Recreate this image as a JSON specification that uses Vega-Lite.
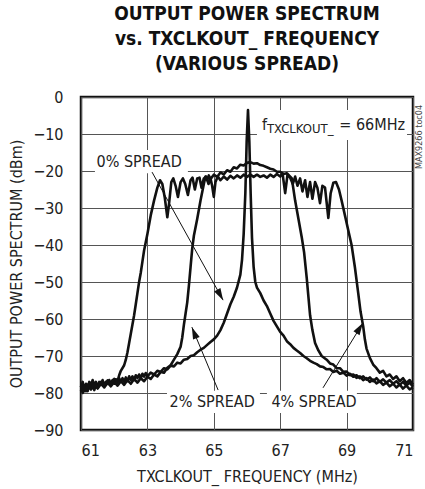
{
  "$schema": "https://vega.github.io/schema/vega-lite/v6.json",
  "width": 332,
  "height": 333,
  "autosize": {"type": "none"},
  "padding": {"left": 81, "top": 97, "right": 12, "bottom": 59},
  "background": "white",
  "config": {
    "view": {"stroke": "#111", "strokeWidth": 2.5},
    "font": "DejaVu Sans Condensed, sans-serif",
    "axis": {
      "domain": false,
      "ticks": false,
      "grid": true,
      "gridColor": "#555",
      "gridWidth": 1,
      "labelFont": "DejaVu Sans Condensed, sans-serif",
      "labelFontSize": 16,
      "labelColor": "#222",
      "titleFont": "DejaVu Sans Condensed, sans-serif",
      "titleFontSize": 16,
      "titleFontWeight": "normal",
      "titleColor": "#222"
    }
  },
  "title": {
    "text": ["OUTPUT POWER SPECTRUM", "vs. TXCLKOUT_ FREQUENCY", "(VARIOUS SPREAD)"],
    "font": "DejaVu Sans Condensed, sans-serif",
    "fontSize": 19,
    "fontWeight": "bold",
    "lineHeight": 25,
    "anchor": "middle",
    "offset": 15,
    "color": "#111"
  },
  "datasets": {
    "curves": [
      {"series": "0%", "f": 61.0, "p": -78.5}, {"series": "0%", "f": 61.05, "p": -77}, {"series": "0%", "f": 61.1, "p": -79}, {"series": "0%", "f": 61.15, "p": -77.5}, {"series": "0%", "f": 61.2, "p": -78.5}, {"series": "0%", "f": 61.25, "p": -77}, {"series": "0%", "f": 61.3, "p": -78}, {"series": "0%", "f": 61.35, "p": -76.5}, {"series": "0%", "f": 61.4, "p": -78}, {"series": "0%", "f": 61.45, "p": -77}, {"series": "0%", "f": 61.5, "p": -78.5}, {"series": "0%", "f": 61.55, "p": -77}, {"series": "0%", "f": 61.6, "p": -77.8}, {"series": "0%", "f": 61.65, "p": -76.5}, {"series": "0%", "f": 61.7, "p": -78}, {"series": "0%", "f": 61.75, "p": -77}, {"series": "0%", "f": 61.8, "p": -77.5}, {"series": "0%", "f": 61.85, "p": -76.5}, {"series": "0%", "f": 61.9, "p": -77.5}, {"series": "0%", "f": 61.95, "p": -76.5}, {"series": "0%", "f": 62.0, "p": -77.5}, {"series": "0%", "f": 62.05, "p": -76.3}, {"series": "0%", "f": 62.1, "p": -77.2}, {"series": "0%", "f": 62.15, "p": -76}, {"series": "0%", "f": 62.2, "p": -77}, {"series": "0%", "f": 62.25, "p": -76}, {"series": "0%", "f": 62.3, "p": -77}, {"series": "0%", "f": 62.35, "p": -75.8}, {"series": "0%", "f": 62.4, "p": -76.8}, {"series": "0%", "f": 62.45, "p": -75.5}, {"series": "0%", "f": 62.5, "p": -76.5}, {"series": "0%", "f": 62.55, "p": -75.5}, {"series": "0%", "f": 62.6, "p": -76.5}, {"series": "0%", "f": 62.65, "p": -75.2}, {"series": "0%", "f": 62.7, "p": -76}, {"series": "0%", "f": 62.75, "p": -75}, {"series": "0%", "f": 62.8, "p": -76}, {"series": "0%", "f": 62.85, "p": -74.8}, {"series": "0%", "f": 62.9, "p": -75.6}, {"series": "0%", "f": 62.95, "p": -74.6}, {"series": "0%", "f": 63.0, "p": -75.5}, {"series": "0%", "f": 63.1, "p": -74.5}, {"series": "0%", "f": 63.2, "p": -75}, {"series": "0%", "f": 63.3, "p": -74}, {"series": "0%", "f": 63.4, "p": -74.3}, {"series": "0%", "f": 63.5, "p": -73.3}, {"series": "0%", "f": 63.6, "p": -73.6}, {"series": "0%", "f": 63.7, "p": -72.6}, {"series": "0%", "f": 63.8, "p": -72.8}, {"series": "0%", "f": 63.9, "p": -71.8}, {"series": "0%", "f": 64.0, "p": -72}, {"series": "0%", "f": 64.1, "p": -71}, {"series": "0%", "f": 64.2, "p": -70.8}, {"series": "0%", "f": 64.3, "p": -70}, {"series": "0%", "f": 64.4, "p": -69.8}, {"series": "0%", "f": 64.5, "p": -69}, {"series": "0%", "f": 64.6, "p": -68.3}, {"series": "0%", "f": 64.7, "p": -67.8}, {"series": "0%", "f": 64.8, "p": -67}, {"series": "0%", "f": 64.9, "p": -66.2}, {"series": "0%", "f": 65.0, "p": -65.5}, {"series": "0%", "f": 65.1, "p": -64.5}, {"series": "0%", "f": 65.2, "p": -63}, {"series": "0%", "f": 65.3, "p": -61}, {"series": "0%", "f": 65.4, "p": -58.5}, {"series": "0%", "f": 65.5, "p": -56}, {"series": "0%", "f": 65.6, "p": -54}, {"series": "0%", "f": 65.7, "p": -51.5}, {"series": "0%", "f": 65.8, "p": -48}, {"series": "0%", "f": 65.85, "p": -44}, {"series": "0%", "f": 65.9, "p": -37}, {"series": "0%", "f": 65.95, "p": -26}, {"series": "0%", "f": 65.99, "p": -12}, {"series": "0%", "f": 66.03, "p": -3.5}, {"series": "0%", "f": 66.07, "p": -12}, {"series": "0%", "f": 66.11, "p": -26}, {"series": "0%", "f": 66.15, "p": -38}, {"series": "0%", "f": 66.2, "p": -46}, {"series": "0%", "f": 66.25, "p": -50}, {"series": "0%", "f": 66.3, "p": -51.5}, {"series": "0%", "f": 66.4, "p": -53}, {"series": "0%", "f": 66.5, "p": -55}, {"series": "0%", "f": 66.6, "p": -56.5}, {"series": "0%", "f": 66.7, "p": -58.5}, {"series": "0%", "f": 66.8, "p": -60.5}, {"series": "0%", "f": 66.9, "p": -62}, {"series": "0%", "f": 67.0, "p": -63.5}, {"series": "0%", "f": 67.1, "p": -64.5}, {"series": "0%", "f": 67.2, "p": -66}, {"series": "0%", "f": 67.3, "p": -66.8}, {"series": "0%", "f": 67.4, "p": -67.8}, {"series": "0%", "f": 67.5, "p": -68.5}, {"series": "0%", "f": 67.6, "p": -69.2}, {"series": "0%", "f": 67.7, "p": -70}, {"series": "0%", "f": 67.8, "p": -70.6}, {"series": "0%", "f": 67.9, "p": -71.3}, {"series": "0%", "f": 68.0, "p": -71.8}, {"series": "0%", "f": 68.1, "p": -72.2}, {"series": "0%", "f": 68.2, "p": -72.8}, {"series": "0%", "f": 68.3, "p": -73}, {"series": "0%", "f": 68.4, "p": -73.6}, {"series": "0%", "f": 68.5, "p": -73.5}, {"series": "0%", "f": 68.6, "p": -74.3}, {"series": "0%", "f": 68.7, "p": -74}, {"series": "0%", "f": 68.8, "p": -74.8}, {"series": "0%", "f": 68.9, "p": -74.5}, {"series": "0%", "f": 69.0, "p": -75.3}, {"series": "0%", "f": 69.1, "p": -74.8}, {"series": "0%", "f": 69.2, "p": -75.6}, {"series": "0%", "f": 69.3, "p": -75.2}, {"series": "0%", "f": 69.4, "p": -76}, {"series": "0%", "f": 69.5, "p": -75.5}, {"series": "0%", "f": 69.6, "p": -76.4}, {"series": "0%", "f": 69.7, "p": -75.8}, {"series": "0%", "f": 69.8, "p": -76.8}, {"series": "0%", "f": 69.9, "p": -76}, {"series": "0%", "f": 70.0, "p": -77}, {"series": "0%", "f": 70.1, "p": -76.3}, {"series": "0%", "f": 70.2, "p": -77.2}, {"series": "0%", "f": 70.3, "p": -76.5}, {"series": "0%", "f": 70.4, "p": -77.5}, {"series": "0%", "f": 70.5, "p": -76.8}, {"series": "0%", "f": 70.6, "p": -77.8}, {"series": "0%", "f": 70.7, "p": -77}, {"series": "0%", "f": 70.8, "p": -78}, {"series": "0%", "f": 70.9, "p": -77.2}, {"series": "0%", "f": 71.0, "p": -78.3},

      {"series": "2%", "f": 61.0, "p": -79.5}, {"series": "2%", "f": 61.05, "p": -78}, {"series": "2%", "f": 61.1, "p": -79.5}, {"series": "2%", "f": 61.15, "p": -78.5}, {"series": "2%", "f": 61.2, "p": -79.5}, {"series": "2%", "f": 61.25, "p": -78}, {"series": "2%", "f": 61.3, "p": -79}, {"series": "2%", "f": 61.35, "p": -78}, {"series": "2%", "f": 61.4, "p": -79.2}, {"series": "2%", "f": 61.45, "p": -77.8}, {"series": "2%", "f": 61.5, "p": -78.8}, {"series": "2%", "f": 61.6, "p": -77.5}, {"series": "2%", "f": 61.7, "p": -78.5}, {"series": "2%", "f": 61.8, "p": -77.2}, {"series": "2%", "f": 61.9, "p": -78.2}, {"series": "2%", "f": 62.0, "p": -77}, {"series": "2%", "f": 62.1, "p": -78}, {"series": "2%", "f": 62.2, "p": -76.8}, {"series": "2%", "f": 62.3, "p": -77.8}, {"series": "2%", "f": 62.4, "p": -76.5}, {"series": "2%", "f": 62.5, "p": -77.5}, {"series": "2%", "f": 62.6, "p": -76.2}, {"series": "2%", "f": 62.7, "p": -77.2}, {"series": "2%", "f": 62.8, "p": -76}, {"series": "2%", "f": 62.9, "p": -76.8}, {"series": "2%", "f": 63.0, "p": -75.6}, {"series": "2%", "f": 63.1, "p": -76.2}, {"series": "2%", "f": 63.2, "p": -75}, {"series": "2%", "f": 63.3, "p": -75.5}, {"series": "2%", "f": 63.4, "p": -74.3}, {"series": "2%", "f": 63.5, "p": -74.5}, {"series": "2%", "f": 63.6, "p": -73.2}, {"series": "2%", "f": 63.7, "p": -72.5}, {"series": "2%", "f": 63.8, "p": -71}, {"series": "2%", "f": 63.9, "p": -69.5}, {"series": "2%", "f": 64.0, "p": -67.5}, {"series": "2%", "f": 64.05, "p": -65}, {"series": "2%", "f": 64.1, "p": -61.5}, {"series": "2%", "f": 64.15, "p": -58.5}, {"series": "2%", "f": 64.2, "p": -55.5}, {"series": "2%", "f": 64.25, "p": -51}, {"series": "2%", "f": 64.3, "p": -46}, {"series": "2%", "f": 64.35, "p": -41}, {"series": "2%", "f": 64.4, "p": -37.5}, {"series": "2%", "f": 64.5, "p": -33}, {"series": "2%", "f": 64.6, "p": -28}, {"series": "2%", "f": 64.7, "p": -23.5}, {"series": "2%", "f": 64.75, "p": -21.5}, {"series": "2%", "f": 64.8, "p": -22.5}, {"series": "2%", "f": 64.85, "p": -21.2}, {"series": "2%", "f": 64.9, "p": -22.2}, {"series": "2%", "f": 65.0, "p": -21}, {"series": "2%", "f": 65.1, "p": -21.6}, {"series": "2%", "f": 65.2, "p": -20.4}, {"series": "2%", "f": 65.3, "p": -20.9}, {"series": "2%", "f": 65.4, "p": -19.8}, {"series": "2%", "f": 65.5, "p": -20.2}, {"series": "2%", "f": 65.6, "p": -19}, {"series": "2%", "f": 65.7, "p": -19.3}, {"series": "2%", "f": 65.8, "p": -18.3}, {"series": "2%", "f": 65.9, "p": -18.5}, {"series": "2%", "f": 66.0, "p": -17.8}, {"series": "2%", "f": 66.1, "p": -17.6}, {"series": "2%", "f": 66.2, "p": -18}, {"series": "2%", "f": 66.3, "p": -17.9}, {"series": "2%", "f": 66.4, "p": -18.4}, {"series": "2%", "f": 66.5, "p": -18.6}, {"series": "2%", "f": 66.6, "p": -19}, {"series": "2%", "f": 66.7, "p": -19.4}, {"series": "2%", "f": 66.8, "p": -19.6}, {"series": "2%", "f": 66.9, "p": -20.2}, {"series": "2%", "f": 67.0, "p": -20.2}, {"series": "2%", "f": 67.1, "p": -20.8}, {"series": "2%", "f": 67.2, "p": -20.6}, {"series": "2%", "f": 67.3, "p": -21.5}, {"series": "2%", "f": 67.35, "p": -22}, {"series": "2%", "f": 67.45, "p": -28}, {"series": "2%", "f": 67.55, "p": -33}, {"series": "2%", "f": 67.65, "p": -38}, {"series": "2%", "f": 67.72, "p": -42}, {"series": "2%", "f": 67.8, "p": -49}, {"series": "2%", "f": 67.85, "p": -54}, {"series": "2%", "f": 67.9, "p": -59}, {"series": "2%", "f": 67.97, "p": -63}, {"series": "2%", "f": 68.05, "p": -66.5}, {"series": "2%", "f": 68.15, "p": -68.5}, {"series": "2%", "f": 68.25, "p": -70}, {"series": "2%", "f": 68.4, "p": -71}, {"series": "2%", "f": 68.5, "p": -72}, {"series": "2%", "f": 68.6, "p": -72.3}, {"series": "2%", "f": 68.7, "p": -73.3}, {"series": "2%", "f": 68.8, "p": -73.3}, {"series": "2%", "f": 68.9, "p": -74.3}, {"series": "2%", "f": 69.0, "p": -74.2}, {"series": "2%", "f": 69.1, "p": -75.2}, {"series": "2%", "f": 69.2, "p": -75}, {"series": "2%", "f": 69.3, "p": -75.9}, {"series": "2%", "f": 69.4, "p": -75.5}, {"series": "2%", "f": 69.5, "p": -76.5}, {"series": "2%", "f": 69.6, "p": -76}, {"series": "2%", "f": 69.7, "p": -77}, {"series": "2%", "f": 69.8, "p": -76.4}, {"series": "2%", "f": 69.9, "p": -77.4}, {"series": "2%", "f": 70.0, "p": -76.8}, {"series": "2%", "f": 70.1, "p": -77.8}, {"series": "2%", "f": 70.2, "p": -77.2}, {"series": "2%", "f": 70.3, "p": -78.2}, {"series": "2%", "f": 70.4, "p": -77.5}, {"series": "2%", "f": 70.5, "p": -78.5}, {"series": "2%", "f": 70.6, "p": -77.7}, {"series": "2%", "f": 70.7, "p": -78.8}, {"series": "2%", "f": 70.8, "p": -78}, {"series": "2%", "f": 70.9, "p": -79}, {"series": "2%", "f": 71.0, "p": -78.5},

      {"series": "4%", "f": 61.0, "p": -78}, {"series": "4%", "f": 61.05, "p": -80}, {"series": "4%", "f": 61.1, "p": -78.2}, {"series": "4%", "f": 61.15, "p": -79.5}, {"series": "4%", "f": 61.2, "p": -77.8}, {"series": "4%", "f": 61.3, "p": -79}, {"series": "4%", "f": 61.4, "p": -77.5}, {"series": "4%", "f": 61.5, "p": -78.6}, {"series": "4%", "f": 61.6, "p": -77}, {"series": "4%", "f": 61.7, "p": -78}, {"series": "4%", "f": 61.8, "p": -76.6}, {"series": "4%", "f": 61.9, "p": -77.5}, {"series": "4%", "f": 62.0, "p": -76.2}, {"series": "4%", "f": 62.1, "p": -76.8}, {"series": "4%", "f": 62.15, "p": -75.2}, {"series": "4%", "f": 62.2, "p": -74}, {"series": "4%", "f": 62.3, "p": -72.5}, {"series": "4%", "f": 62.35, "p": -71}, {"series": "4%", "f": 62.4, "p": -69}, {"series": "4%", "f": 62.45, "p": -66.5}, {"series": "4%", "f": 62.5, "p": -64}, {"series": "4%", "f": 62.55, "p": -61.5}, {"series": "4%", "f": 62.6, "p": -59}, {"series": "4%", "f": 62.65, "p": -56}, {"series": "4%", "f": 62.7, "p": -53}, {"series": "4%", "f": 62.75, "p": -50}, {"series": "4%", "f": 62.8, "p": -47.5}, {"series": "4%", "f": 62.85, "p": -44.5}, {"series": "4%", "f": 62.9, "p": -41.5}, {"series": "4%", "f": 63.0, "p": -37}, {"series": "4%", "f": 63.1, "p": -32}, {"series": "4%", "f": 63.2, "p": -28}, {"series": "4%", "f": 63.3, "p": -24.5}, {"series": "4%", "f": 63.38, "p": -22.5}, {"series": "4%", "f": 63.45, "p": -23.5}, {"series": "4%", "f": 63.52, "p": -27}, {"series": "4%", "f": 63.6, "p": -32.5}, {"series": "4%", "f": 63.65, "p": -29}, {"series": "4%", "f": 63.72, "p": -23}, {"series": "4%", "f": 63.78, "p": -22}, {"series": "4%", "f": 63.85, "p": -24}, {"series": "4%", "f": 63.92, "p": -27}, {"series": "4%", "f": 64.0, "p": -23}, {"series": "4%", "f": 64.07, "p": -22}, {"series": "4%", "f": 64.14, "p": -23.5}, {"series": "4%", "f": 64.22, "p": -26.5}, {"series": "4%", "f": 64.3, "p": -22.5}, {"series": "4%", "f": 64.36, "p": -21.8}, {"series": "4%", "f": 64.43, "p": -25}, {"series": "4%", "f": 64.5, "p": -22}, {"series": "4%", "f": 64.57, "p": -21.8}, {"series": "4%", "f": 64.63, "p": -24.5}, {"series": "4%", "f": 64.7, "p": -22}, {"series": "4%", "f": 64.77, "p": -21.5}, {"series": "4%", "f": 64.84, "p": -23.5}, {"series": "4%", "f": 64.9, "p": -22}, {"series": "4%", "f": 64.95, "p": -24}, {"series": "4%", "f": 65.0, "p": -27}, {"series": "4%", "f": 65.05, "p": -23}, {"series": "4%", "f": 65.12, "p": -21.5}, {"series": "4%", "f": 65.2, "p": -22.5}, {"series": "4%", "f": 65.3, "p": -21.5}, {"series": "4%", "f": 65.4, "p": -22.3}, {"series": "4%", "f": 65.5, "p": -21.3}, {"series": "4%", "f": 65.6, "p": -22}, {"series": "4%", "f": 65.7, "p": -21.2}, {"series": "4%", "f": 65.8, "p": -21.8}, {"series": "4%", "f": 65.9, "p": -21}, {"series": "4%", "f": 66.0, "p": -21.6}, {"series": "4%", "f": 66.1, "p": -21}, {"series": "4%", "f": 66.2, "p": -21.6}, {"series": "4%", "f": 66.3, "p": -21}, {"series": "4%", "f": 66.4, "p": -21.6}, {"series": "4%", "f": 66.5, "p": -21.2}, {"series": "4%", "f": 66.6, "p": -21.8}, {"series": "4%", "f": 66.7, "p": -21}, {"series": "4%", "f": 66.8, "p": -21.6}, {"series": "4%", "f": 66.9, "p": -20.8}, {"series": "4%", "f": 67.0, "p": -21.5}, {"series": "4%", "f": 67.07, "p": -20.6}, {"series": "4%", "f": 67.15, "p": -26}, {"series": "4%", "f": 67.22, "p": -21}, {"series": "4%", "f": 67.3, "p": -21.8}, {"series": "4%", "f": 67.38, "p": -23.5}, {"series": "4%", "f": 67.45, "p": -21.5}, {"series": "4%", "f": 67.52, "p": -24}, {"series": "4%", "f": 67.6, "p": -22}, {"series": "4%", "f": 67.67, "p": -25.5}, {"series": "4%", "f": 67.75, "p": -22.5}, {"series": "4%", "f": 67.82, "p": -27}, {"series": "4%", "f": 67.9, "p": -23}, {"series": "4%", "f": 67.97, "p": -27.5}, {"series": "4%", "f": 68.05, "p": -23}, {"series": "4%", "f": 68.12, "p": -24.5}, {"series": "4%", "f": 68.2, "p": -28.7}, {"series": "4%", "f": 68.27, "p": -24}, {"series": "4%", "f": 68.35, "p": -24.5}, {"series": "4%", "f": 68.45, "p": -32.7}, {"series": "4%", "f": 68.52, "p": -26}, {"series": "4%", "f": 68.6, "p": -23.2}, {"series": "4%", "f": 68.68, "p": -23}, {"series": "4%", "f": 68.77, "p": -25}, {"series": "4%", "f": 68.85, "p": -28}, {"series": "4%", "f": 68.95, "p": -32}, {"series": "4%", "f": 69.05, "p": -36}, {"series": "4%", "f": 69.15, "p": -40}, {"series": "4%", "f": 69.25, "p": -46}, {"series": "4%", "f": 69.35, "p": -53}, {"series": "4%", "f": 69.42, "p": -58}, {"series": "4%", "f": 69.5, "p": -62}, {"series": "4%", "f": 69.55, "p": -65.5}, {"series": "4%", "f": 69.6, "p": -68}, {"series": "4%", "f": 69.7, "p": -70.5}, {"series": "4%", "f": 69.8, "p": -72.3}, {"series": "4%", "f": 69.9, "p": -73.3}, {"series": "4%", "f": 70.0, "p": -74.5}, {"series": "4%", "f": 70.1, "p": -74}, {"series": "4%", "f": 70.2, "p": -75.5}, {"series": "4%", "f": 70.3, "p": -75}, {"series": "4%", "f": 70.4, "p": -76.2}, {"series": "4%", "f": 70.5, "p": -75.5}, {"series": "4%", "f": 70.6, "p": -76.8}, {"series": "4%", "f": 70.7, "p": -76}, {"series": "4%", "f": 70.8, "p": -77.3}, {"series": "4%", "f": 70.9, "p": -76.5}, {"series": "4%", "f": 71.0, "p": -77.8}
    ],
    "boxes": [
      {"f": 61.42, "f2": 64.22, "p": -14.3, "p2": -20.6},
      {"f": 63.59, "f2": 66.39, "p": -79.4, "p2": -85.4},
      {"f": 66.6, "f2": 69.31, "p": -79.4, "p2": -85.4},
      {"f": 66.3, "f2": 70.82, "p": -3.5, "p2": -11.6}
    ],
    "labels": [
      {"f": 62.75, "p": -17.6, "text": "0% SPREAD"},
      {"f": 64.95, "p": -82.4, "text": "2% SPREAD"},
      {"f": 68.02, "p": -82.4, "text": "4% SPREAD"}
    ],
    "arrows": [
      {"name": "0%", "f": 63.14, "p": -20.3, "f2": 65.28, "p2": -54.9},
      {"name": "2%", "f": 65.13, "p": -79.2, "f2": 64.34, "p2": -62.2},
      {"name": "4%", "f": 68.29, "p": -78.6, "f2": 69.49, "p2": -61.1}
    ],
    "note": [
      {"role": "main", "f": 66.45, "p": -8.9, "text": "f"},
      {"role": "sub", "f": 66.6, "p": -9.8, "text": "TXCLKOUT_"},
      {"role": "main", "f": 68.78, "p": -8.9, "text": "= 66MHz"}
    ],
    "tag": [
      {"f": 71.17, "p": -10.8, "text": "MAX9266 toc04"}
    ]
  },
  "data": {"name": "curves"},
  "layer": [
    {
      "data": {"name": "boxes"},
      "mark": {"type": "rect", "fill": "white", "stroke": null},
      "encoding": {
        "x": {"field": "f", "type": "quantitative", "scale": {"domain": [61, 71], "nice": false, "zero": false},
              "axis": {"values": [61, 63, 65, 67, 69, 71], "title": "TXCLKOUT_ FREQUENCY (MHz)", "labelPadding": 12, "titlePadding": 10, "labelOverlap": false}},
        "x2": {"field": "f2"},
        "y": {"field": "p", "type": "quantitative", "scale": {"domain": [-90, 0], "nice": false, "zero": false},
              "axis": {"tickCount": 9, "title": "OUTPUT POWER SPECTRUM (dBm)", "labelPadding": 18, "titlePadding": 8, "labelOverlap": false, "labelFlush": false}},
        "y2": {"field": "p2"}
      }
    },
    {
      "mark": {"type": "line", "color": "#111", "strokeWidth": 2.6, "strokeJoin": "round"},
      "encoding": {
        "x": {"field": "f", "type": "quantitative"},
        "y": {"field": "p", "type": "quantitative"},
        "detail": {"field": "series", "type": "nominal"}
      }
    },
    {
      "data": {"name": "arrows"},
      "mark": {"type": "rule", "color": "#111", "strokeWidth": 1},
      "encoding": {
        "x": {"field": "f", "type": "quantitative"},
        "y": {"field": "p", "type": "quantitative"},
        "x2": {"field": "f2"},
        "y2": {"field": "p2"}
      }
    },
    {
      "data": {"name": "arrows"},
      "transform": [{"filter": "datum.name === '0%'"}],
      "mark": {"type": "point", "shape": "M0,0L-0.6,2L0.6,2Z", "filled": true, "color": "#111", "size": 144, "angle": 151, "opacity": 1},
      "encoding": {"x": {"field": "f2", "type": "quantitative"}, "y": {"field": "p2", "type": "quantitative"}}
    },
    {
      "data": {"name": "arrows"},
      "transform": [{"filter": "datum.name === '2%'"}],
      "mark": {"type": "point", "shape": "M0,0L-0.6,2L0.6,2Z", "filled": true, "color": "#111", "size": 144, "angle": 338, "opacity": 1},
      "encoding": {"x": {"field": "f2", "type": "quantitative"}, "y": {"field": "p2", "type": "quantitative"}}
    },
    {
      "data": {"name": "arrows"},
      "transform": [{"filter": "datum.name === '4%'"}],
      "mark": {"type": "point", "shape": "M0,0L-0.6,2L0.6,2Z", "filled": true, "color": "#111", "size": 144, "angle": 32, "opacity": 1},
      "encoding": {"x": {"field": "f2", "type": "quantitative"}, "y": {"field": "p2", "type": "quantitative"}}
    },
    {
      "data": {"name": "labels"},
      "mark": {"type": "text", "fontSize": 16, "color": "#222", "align": "center", "baseline": "middle"},
      "encoding": {
        "x": {"field": "f", "type": "quantitative"},
        "y": {"field": "p", "type": "quantitative"},
        "text": {"field": "text"}
      }
    },
    {
      "data": {"name": "note"},
      "transform": [{"filter": "datum.role === 'main'"}],
      "mark": {"type": "text", "fontSize": 16, "color": "#222", "align": "left", "baseline": "alphabetic"},
      "encoding": {
        "x": {"field": "f", "type": "quantitative"},
        "y": {"field": "p", "type": "quantitative"},
        "text": {"field": "text"}
      }
    },
    {
      "data": {"name": "note"},
      "transform": [{"filter": "datum.role === 'sub'"}],
      "mark": {"type": "text", "fontSize": 13, "color": "#222", "align": "left", "baseline": "alphabetic"},
      "encoding": {
        "x": {"field": "f", "type": "quantitative"},
        "y": {"field": "p", "type": "quantitative"},
        "text": {"field": "text"}
      }
    },
    {
      "data": {"name": "tag"},
      "mark": {"type": "text", "fontSize": 9, "color": "#444", "angle": 270, "align": "center", "baseline": "middle", "clip": false},
      "encoding": {
        "x": {"field": "f", "type": "quantitative"},
        "y": {"field": "p", "type": "quantitative"},
        "text": {"field": "text"}
      }
    }
  ]
}
